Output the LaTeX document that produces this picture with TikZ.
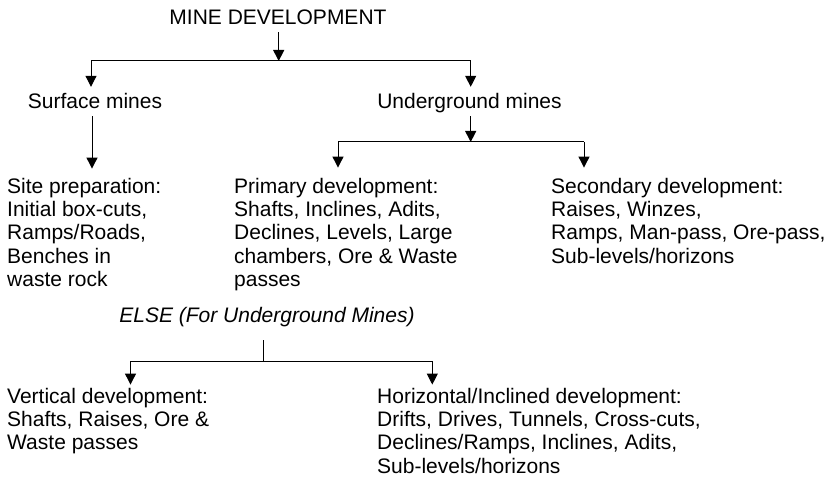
\documentclass[tikz,border=0pt]{standalone}
\usepackage{fontspec}
\setmainfont{Liberation Sans}
\usetikzlibrary{arrows.meta}
\begin{document}
\begin{tikzpicture}[x=1pt,y=-1pt,
  lbl/.style={inner xsep=0pt, inner ysep=7pt, text height=15pt, text depth=0pt,
    font=\fontsize{21}{23.4}\selectfont, anchor=base},
  blk/.style={inner xsep=0pt, align=left, anchor=base west,
    font=\fontsize{21}{23.4}\selectfont},
  con/.style={line width=1pt},
  arr/.style={con, -{Triangle[width=11pt,length=11pt]}}]
\useasboundingbox (0,0) rectangle (833,492);

% text nodes (multi-line nodes are placed by the baseline of their last line)
\node[lbl] (md) at (278,25) {MINE DEVELOPMENT};
\node[lbl] (sm) at (95,109) {Surface mines};
\node[lbl] (um) at (469.5,109) {Underground mines};
\node[blk, inner ysep=9pt] (site) at (7,286.6) {Site preparation:\\Initial box-cuts,\\Ramps/Roads,\\Benches in\\waste rock};
\node[blk, inner ysep=10pt] (prim) at (234,286.6) {Primary development:\\Shafts, Inclines, Adits,\\Declines, Levels, Large\\chambers, Ore \& Waste\\passes};
\node[blk, inner ysep=10pt] (sec) at (551,263.2) {Secondary development:\\Raises, Winzes,\\Ramps, Man-pass, Ore-pass,\\Sub-levels/horizons};
\node[lbl, inner ysep=18pt, font=\fontsize{21}{23.4}\selectfont\itshape] (else) at (267,322) {ELSE (For Underground Mines)};
\node[blk, inner ysep=3pt] (vert) at (7,449.8) {Vertical development:\\Shafts, Raises, Ore \&\\Waste passes};
\node[blk, inner ysep=3pt] (horiz) at (377,473.2) {Horizontal/Inclined development:\\Drifts, Drives, Tunnels, Cross-cuts,\\Declines/Ramps, Inclines, Adits,\\Sub-levels/horizons};

% junction points
\coordinate (a0) at (278.7,61);
\coordinate (a1) at (91,61);
\coordinate (a2) at (470.7,61);
\coordinate (s0) at (92,114);
\coordinate (u0) at (470.7,142);
\coordinate (u1) at (338,142);
\coordinate (u2) at (584,142);
\coordinate (e0) at (263.3,361);
\coordinate (e1) at (130.5,361);
\coordinate (e2) at (432.3,361);

% connectors
\draw[arr] (a0 |- md.south) -- (a0);
\draw[con] (a1) -- (a2);
\draw[arr] (a1) -- (a1 |- sm.north);
\draw[arr] (a2) -- (a2 |- um.north);
\draw[arr] (s0 |- sm.south) -- (s0 |- site.north);
\draw[arr] (u0 |- um.south) -- (u0);
\draw[con] (u1) -- (u2);
\draw[arr] (u1) -- (u1 |- prim.north);
\draw[arr] (u2) -- (u2 |- sec.north);
\draw[con] (e0 |- else.south) -- (e0);
\draw[con] (e1) -- (e2);
\draw[arr] (e1) -- (e1 |- vert.north);
\draw[arr] (e2) -- (e2 |- horiz.north);
\end{tikzpicture}
\end{document}
